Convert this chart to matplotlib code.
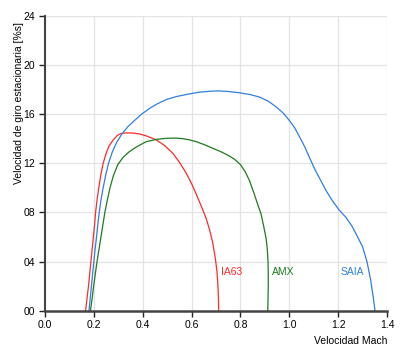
import matplotlib
matplotlib.use("Agg")
import matplotlib.pyplot as plt

plt.rcParams['font.family'] = ['Liberation Sans', 'DejaVu Sans']

# IA63 (red)
ia63_x = [0.166, 0.172, 0.178, 0.183, 0.188, 0.193, 0.198, 0.203, 0.207, 0.213, 0.22, 0.228, 0.238,
          0.25, 0.262, 0.279, 0.295, 0.31, 0.33, 0.36, 0.39, 0.42, 0.456, 0.49, 0.524, 0.55, 0.578,
          0.6, 0.62, 0.64, 0.66, 0.675, 0.687, 0.697, 0.704, 0.708, 0.71, 0.711]
ia63_y = [0.0, 1.0, 2.0, 3.0, 4.0, 5.0, 6.0, 7.0, 8.0, 9.0, 10.0, 11.0, 12.0,
          12.8, 13.4, 13.9, 14.25, 14.42, 14.48, 14.47, 14.38, 14.2, 13.9, 13.45, 12.8, 12.1, 11.2,
          10.35, 9.45, 8.5, 7.5, 6.5, 5.49, 4.3, 3.2, 2.0, 1.0, 0.0]

# AMX (green)
amx_x = [0.186, 0.193, 0.199, 0.206, 0.213, 0.221, 0.229, 0.237, 0.245, 0.255, 0.266, 0.28, 0.298,
         0.32, 0.345, 0.375, 0.415, 0.455, 0.497, 0.53, 0.56, 0.59, 0.62, 0.655, 0.69, 0.72, 0.75,
         0.775, 0.80, 0.82, 0.837, 0.855, 0.87, 0.884, 0.895, 0.905, 0.91, 0.913, 0.914, 0.914,
         0.913, 0.912]
amx_y = [0.0, 1.0, 2.0, 3.0, 4.0, 5.0, 6.0, 7.0, 8.0, 9.0, 10.0, 11.0, 11.9,
         12.5, 12.95, 13.35, 13.77, 13.95, 14.04, 14.06, 14.02, 13.92, 13.76, 13.5, 13.2, 12.95, 12.65,
         12.35, 11.9, 11.3, 10.6, 9.6, 8.7, 7.9, 6.9, 5.9, 5.0, 4.0, 3.0, 2.0,
         1.0, 0.0]

# SAIA (blue)
saia_x = [0.18, 0.185, 0.19, 0.195, 0.2, 0.205, 0.211, 0.216, 0.222, 0.229, 0.238, 0.248, 0.26,
          0.275, 0.293, 0.315, 0.34, 0.367, 0.395, 0.43, 0.46, 0.497, 0.54, 0.59, 0.633, 0.68,
          0.714, 0.75, 0.796, 0.84, 0.878, 0.915, 0.946, 0.975, 1.0, 1.022, 1.041, 1.062, 1.082,
          1.105, 1.129, 1.15, 1.175, 1.204, 1.232, 1.258, 1.28, 1.3, 1.318, 1.333, 1.343, 1.351]
saia_y = [0.0, 1.0, 2.0, 3.0, 4.0, 5.0, 6.0, 7.0, 8.0, 9.0, 10.0, 11.0, 12.0,
          12.9, 13.7, 14.4, 15.0, 15.5, 16.0, 16.5, 16.85, 17.2, 17.45, 17.65, 17.8, 17.88,
          17.9, 17.85, 17.75, 17.6, 17.4, 17.05, 16.6, 16.1, 15.5, 14.9, 14.2, 13.4, 12.5,
          11.5, 10.6, 9.8, 9.0, 8.2, 7.6, 6.84, 6.0, 5.2, 4.0, 2.5, 1.2, 0.0]

x_ticks = [0.0, 0.2, 0.4, 0.6, 0.8, 1.0, 1.2, 1.4]
y_ticks = [0, 4, 8, 12, 16, 20, 24]
y_ticklabels = ["00", "04", "08", "12", "16", "20", "24"]

labels = ["IA63", "AMX", "SAIA"]
label_x = [0.722, 0.931, 1.208]
label_y = [3.15, 3.15, 3.15]
colors = ["#ff2a2a", "#1f7a1f", "#2f7ee0"]

fig = plt.figure(figsize=(4.0, 3.54), dpi=100)
ax = fig.add_axes([0.1125, 0.1223, 0.855, 0.8325])

ax.plot(ia63_x, ia63_y, color=colors[0], lw=0.9)
ax.plot(amx_x, amx_y, color=colors[1], lw=0.9)
ax.plot(saia_x, saia_y, color=colors[2], lw=0.9)

for t, x, y, c in zip(labels, label_x, label_y, colors):
    ax.text(x, y, t, color=c, fontsize=7.5, ha='left', va='center')

ax.set_xlim(0, 1.4)
ax.set_ylim(0, 24)
ax.set_xticks(x_ticks)
ax.set_xticklabels([f"{v:.1f}" for v in x_ticks])
ax.set_yticks(y_ticks)
ax.set_yticklabels(y_ticklabels)
ax.grid(True, color="#e3e3e3", lw=0.9)
ax.set_axisbelow(True)

for s in ['top', 'right']:
    ax.spines[s].set_visible(False)
ax.spines['left'].set_color('#444444')
ax.spines['left'].set_linewidth(1.5)
ax.spines['bottom'].set_color('#444444')
ax.spines['bottom'].set_linewidth(1.8)
ax.tick_params(axis='both', direction='out', length=4, width=1, color='#222222',
               labelsize=7.5, pad=3)

ax.set_ylabel("Velocidad de giro estacionaria [%s]", fontsize=7.5, loc='top', labelpad=2)
ax.yaxis.set_label_coords(-0.06, 0.98)
ax.set_xlabel("Velocidad Mach", fontsize=7.5, loc='right', labelpad=4)

fig.savefig("out.png", dpi=100)
